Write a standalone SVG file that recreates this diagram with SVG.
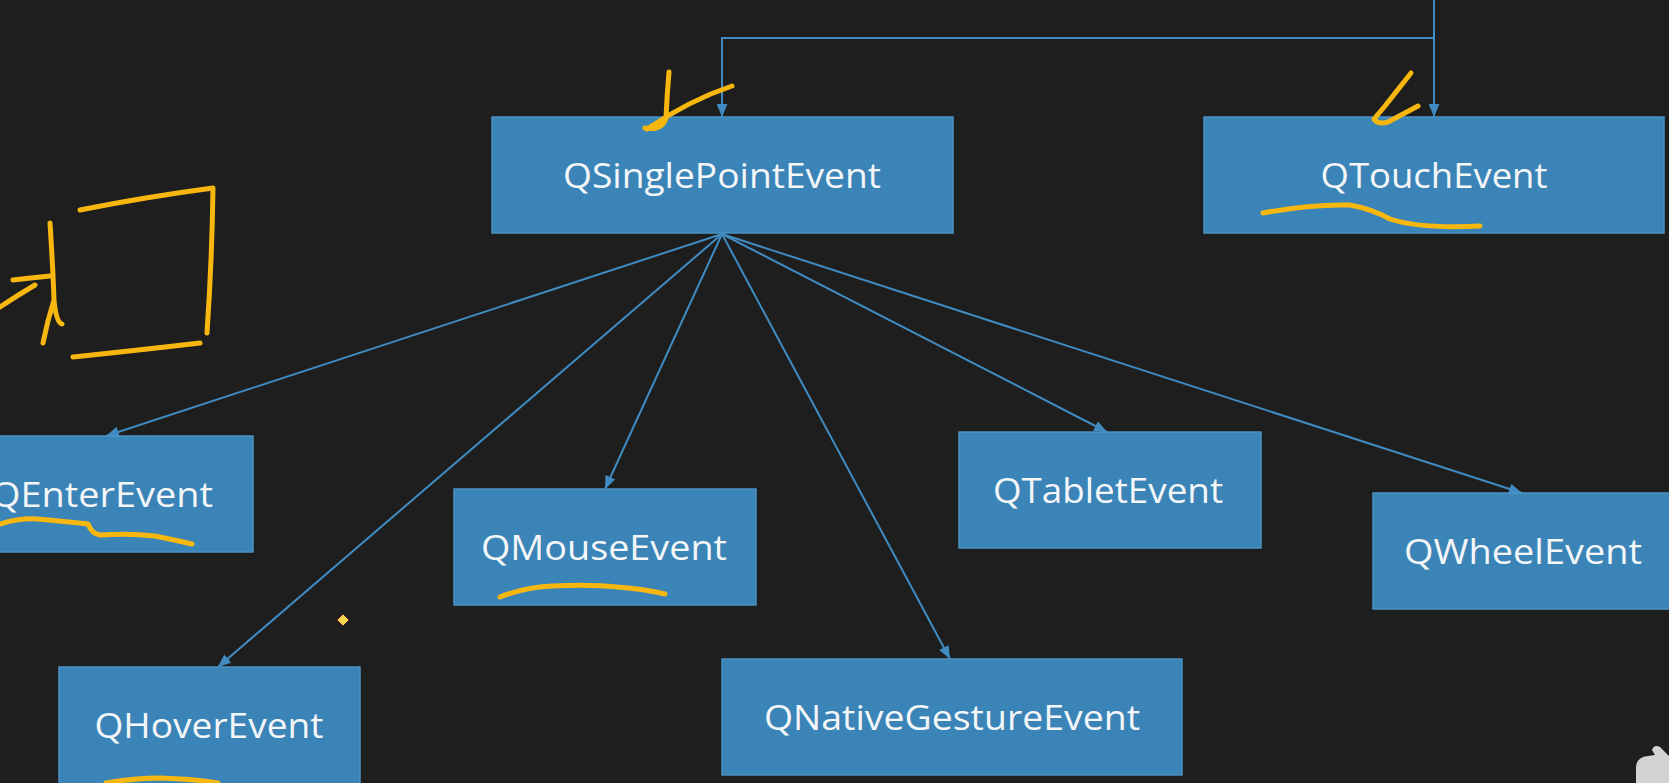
<svg xmlns="http://www.w3.org/2000/svg" width="1669" height="783" viewBox="0 0 1669 783">
<style>
.box{fill:#3b84b7;stroke:#4b92c3;stroke-width:1.5}
.lbl{font-family:"Open Sans","Noto Sans",sans-serif;font-size:35px;fill:#f4f6f8;text-anchor:middle}
.con{stroke:#3f8bc2;stroke-width:2;fill:none}
.ink{stroke:#f7b70f;stroke-width:5;fill:none;stroke-linecap:round;stroke-linejoin:round}
</style>
<defs>
<marker id="arr" viewBox="0 0 12 10" refX="12" refY="5" markerWidth="13" markerHeight="11" markerUnits="userSpaceOnUse" orient="auto">
<path d="M0,0 L12,5 L0,10 Z" fill="#3f8bc2"/>
</marker>
</defs>
<rect width="1669" height="783" fill="#1e1e1e"/>
<g id="connectors">
<path class="con" d="M1434,0 V38 H722 V117" marker-end="url(#arr)"/>
<path class="con" d="M1434,38 V117" marker-end="url(#arr)"/>
<line class="con" x1="722" y1="234" x2="106" y2="436" marker-end="url(#arr)"/>
<line class="con" x1="722" y1="234" x2="218" y2="667" marker-end="url(#arr)"/>
<line class="con" x1="722" y1="234" x2="605" y2="489" marker-end="url(#arr)"/>
<line class="con" x1="722" y1="234" x2="950" y2="659" marker-end="url(#arr)"/>
<line class="con" x1="722" y1="234" x2="1107" y2="432" marker-end="url(#arr)"/>
<line class="con" x1="722" y1="234" x2="1522" y2="493" marker-end="url(#arr)"/>
</g>
<g id="QSinglePointEvent"><rect class="box" x="492" y="117" width="461" height="116"/><text class="lbl" x="722" y="188" textLength="318" lengthAdjust="spacingAndGlyphs">QSinglePointEvent</text></g>
<g id="QTouchEvent"><rect class="box" x="1204" y="117" width="460" height="116"/><text class="lbl" x="1434" y="188" textLength="227" lengthAdjust="spacingAndGlyphs">QTouchEvent</text></g>
<g id="QEnterEvent"><rect class="box" x="-50" y="436" width="303" height="116"/><text class="lbl" x="102" y="507" textLength="222" lengthAdjust="spacingAndGlyphs">QEnterEvent</text></g>
<g id="QMouseEvent"><rect class="box" x="454" y="489" width="302" height="116"/><text class="lbl" x="604" y="560" textLength="246" lengthAdjust="spacingAndGlyphs">QMouseEvent</text></g>
<g id="QTabletEvent"><rect class="box" x="959" y="432" width="302" height="116"/><text class="lbl" x="1108" y="503" textLength="230" lengthAdjust="spacingAndGlyphs">QTabletEvent</text></g>
<g id="QWheelEvent"><rect class="box" x="1373" y="493" width="310" height="116"/><text class="lbl" x="1523" y="564" textLength="238" lengthAdjust="spacingAndGlyphs">QWheelEvent</text></g>
<g id="QHoverEvent"><rect class="box" x="59" y="667" width="301" height="130"/><text class="lbl" x="209" y="738" textLength="229" lengthAdjust="spacingAndGlyphs">QHoverEvent</text></g>
<g id="QNativeGestureEvent"><rect class="box" x="722" y="659" width="460" height="116"/><text class="lbl" x="952" y="730" textLength="376" lengthAdjust="spacingAndGlyphs">QNativeGestureEvent</text></g>
<g id="annotations">
<path class="ink" d="M669,72 Q667,95 666,118 Q662,131 645,128 M647,129 Q690,100 732,86"/>
<path class="ink" d="M1411,73 L1385,106 L1374,119 Q1378,125 1388,122 L1418,106"/>
<path class="ink" d="M1263,213 Q1310,204 1350,205 Q1372,209 1390,219 Q1420,229 1480,226"/>
<path class="ink" d="M0,524 Q20,518 37,519 Q60,521 88,524 Q92,534 100,535 Q130,533 155,536 Q175,540 192,544"/>
<path class="ink" d="M500,597 Q525,587 553,586 Q590,584 617,587 Q645,589 665,594"/>
<path class="ink" d="M106,783 Q135,778 160,778 Q195,779 218,783"/>
<path class="ink" d="M80,210 Q145,197 213,188 Q212,260 207,333"/>
<path class="ink" d="M200,343 Q140,350 73,357"/>
<path class="ink" d="M50,223 Q53,270 54,300 Q56,322 62,324 M54,300 Q47,322 43,343"/>
<path class="ink" d="M13,280 Q30,278 50,276"/>
<path class="ink" d="M0,307 Q18,295 35,285"/>
<path d="M343,614 L349,620 L343,626 L337,620 Z" fill="#f6d84a" stroke="#6b1f2a" stroke-width="1"/>
</g>
<path d="M1636,783 V768 Q1636,757 1648,756 L1655,755 L1652,750 Q1654,744 1660,747 L1669,756 V783 Z" fill="#d2d2d2"/>
</svg>
